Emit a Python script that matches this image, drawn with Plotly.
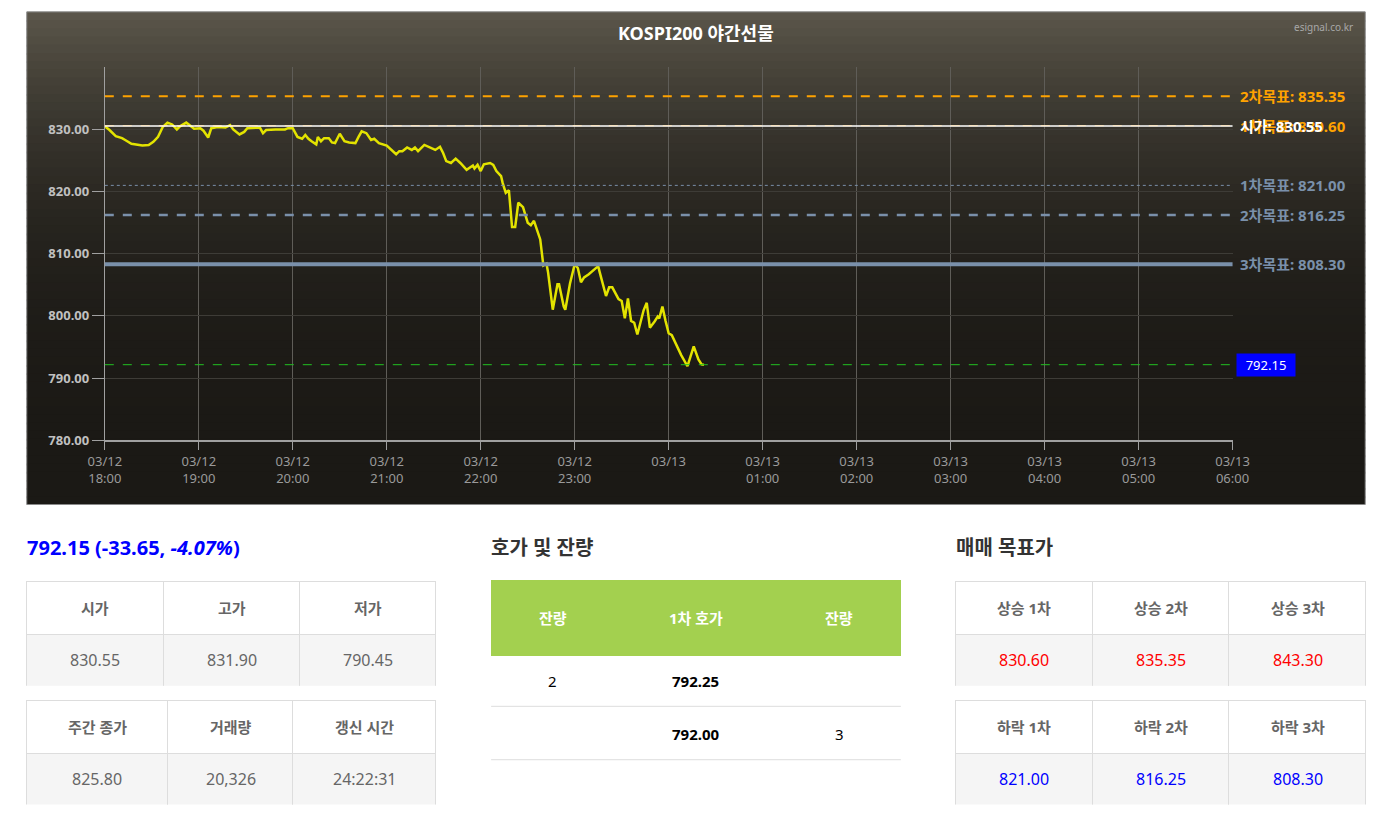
import plotly.graph_objects as go

# ---------------- data ----------------
times = [
    "2025-03-12 18:00", "2025-03-12 18:03", "2025-03-12 18:07", "2025-03-12 18:11", "2025-03-12 18:13",
    "2025-03-12 18:17", "2025-03-12 18:24", "2025-03-12 18:28", "2025-03-12 18:31", "2025-03-12 18:34",
    "2025-03-12 18:37", "2025-03-12 18:40", "2025-03-12 18:43", "2025-03-12 18:46", "2025-03-12 18:48",
    "2025-03-12 18:52", "2025-03-12 18:55", "2025-03-12 18:57", "2025-03-12 19:01", "2025-03-12 19:03",
    "2025-03-12 19:06", "2025-03-12 19:08", "2025-03-12 19:12", "2025-03-12 19:17", "2025-03-12 19:20",
    "2025-03-12 19:22", "2025-03-12 19:26", "2025-03-12 19:29", "2025-03-12 19:31", "2025-03-12 19:35",
    "2025-03-12 19:39", "2025-03-12 19:41", "2025-03-12 19:43", "2025-03-12 19:49", "2025-03-12 19:55",
    "2025-03-12 19:57", "2025-03-12 20:00", "2025-03-12 20:03", "2025-03-12 20:06", "2025-03-12 20:08",
    "2025-03-12 20:10", "2025-03-12 20:12", "2025-03-12 20:15", "2025-03-12 20:16", "2025-03-12 20:18",
    "2025-03-12 20:20", "2025-03-12 20:23", "2025-03-12 20:25", "2025-03-12 20:27", "2025-03-12 20:30",
    "2025-03-12 20:33", "2025-03-12 20:36", "2025-03-12 20:40", "2025-03-12 20:42", "2025-03-12 20:44",
    "2025-03-12 20:47", "2025-03-12 20:50", "2025-03-12 20:52", "2025-03-12 20:55", "2025-03-12 21:00",
    "2025-03-12 21:03", "2025-03-12 21:06", "2025-03-12 21:08", "2025-03-12 21:10", "2025-03-12 21:13",
    "2025-03-12 21:16", "2025-03-12 21:18", "2025-03-12 21:20", "2025-03-12 21:24", "2025-03-12 21:28",
    "2025-03-12 21:31", "2025-03-12 21:34", "2025-03-12 21:36", "2025-03-12 21:38", "2025-03-12 21:41",
    "2025-03-12 21:44", "2025-03-12 21:47", "2025-03-12 21:51", "2025-03-12 21:55", "2025-03-12 21:56",
    "2025-03-12 21:58", "2025-03-12 22:00", "2025-03-12 22:02", "2025-03-12 22:06", "2025-03-12 22:08",
    "2025-03-12 22:10", "2025-03-12 22:13", "2025-03-12 22:14", "2025-03-12 22:16", "2025-03-12 22:18",
    "2025-03-12 22:20", "2025-03-12 22:22", "2025-03-12 22:24", "2025-03-12 22:27", "2025-03-12 22:28",
    "2025-03-12 22:30", "2025-03-12 22:32", "2025-03-12 22:34", "2025-03-12 22:38", "2025-03-12 22:40",
    "2025-03-12 22:42", "2025-03-12 22:43", "2025-03-12 22:46", "2025-03-12 22:49", "2025-03-12 22:50",
    "2025-03-12 22:53", "2025-03-12 22:54", "2025-03-12 22:57", "2025-03-12 23:00", "2025-03-12 23:02",
    "2025-03-12 23:04", "2025-03-12 23:06", "2025-03-12 23:09", "2025-03-12 23:15", "2025-03-12 23:16",
    "2025-03-12 23:18", "2025-03-12 23:20", "2025-03-12 23:22", "2025-03-12 23:24", "2025-03-12 23:28",
    "2025-03-12 23:30", "2025-03-12 23:32", "2025-03-12 23:34", "2025-03-12 23:36", "2025-03-12 23:38",
    "2025-03-12 23:40", "2025-03-12 23:44", "2025-03-12 23:46", "2025-03-12 23:48", "2025-03-12 23:51",
    "2025-03-12 23:53", "2025-03-12 23:54", "2025-03-12 23:56", "2025-03-12 23:58", "2025-03-13 00:00",
    "2025-03-13 00:02", "2025-03-13 00:05", "2025-03-13 00:08", "2025-03-13 00:12", "2025-03-13 00:16",
    "2025-03-13 00:19", "2025-03-13 00:21", "2025-03-13 00:22:31",
]
prices = [
    830.5, 829.9, 828.9, 828.6, 828.3,
    827.7, 827.4, 827.5, 828.0, 828.8,
    830.4, 831.1, 830.8, 830.0, 830.5,
    831.1, 830.5, 830.1, 830.2, 829.8,
    828.7, 830.2, 830.4, 830.3, 830.7,
    830.0, 829.2, 829.6, 830.2, 830.2,
    830.3, 829.4, 829.9, 830.0, 830.0,
    830.2, 830.2, 828.8, 828.5, 829.1,
    828.5, 828.1, 827.6, 828.8, 828.1,
    828.6, 828.6, 827.9, 827.8, 829.3,
    828.1, 827.9, 827.8, 828.8, 829.7,
    829.4, 828.3, 828.5, 827.8, 827.4,
    826.7, 826.0, 826.5, 826.5, 827.1,
    826.7, 827.1, 826.5, 827.5, 827.1,
    826.7, 827.2, 826.2, 824.9, 824.6,
    825.3, 824.6, 823.5, 824.2, 823.7,
    824.3, 823.3, 824.4, 824.6, 824.3,
    823.3, 822.5, 821.4, 819.8, 820.2,
    814.3, 814.3, 818.2, 817.5, 816.6,
    815.0, 814.6, 815.3, 812.3, 808.1,
    808.4, 807.0, 801.0, 805.1, 805.1,
    801.5, 801.0, 805.2, 808.3, 807.7,
    805.4, 806.2, 806.7, 808.0, 807.0,
    804.9, 803.2, 804.6, 804.6, 802.7,
    802.4, 799.6, 802.8, 799.2, 798.9,
    797.0, 800.9, 802.1, 798.1, 799.1,
    799.9, 799.6, 801.5, 799.2, 797.2,
    796.9, 795.3, 793.7, 791.9, 795.1,
    793.0, 792.2, 792.15,
]

chart_title = "KOSPI200 야간선물"
source_text = "esignal.co.kr"

open_price = 830.55
current_price = 792.15
up_target_labels = ["1차목표", "2차목표"]
up_target_values = [830.60, 835.35]
down_target_labels = ["1차목표", "2차목표", "3차목표"]
down_target_values = [821.00, 816.25, 808.30]

x_tick_vals = ["2025-03-12 18:00", "2025-03-12 19:00", "2025-03-12 20:00", "2025-03-12 21:00",
               "2025-03-12 22:00", "2025-03-12 23:00", "2025-03-13 00:00", "2025-03-13 01:00",
               "2025-03-13 02:00", "2025-03-13 03:00", "2025-03-13 04:00", "2025-03-13 05:00",
               "2025-03-13 06:00"]
x_tick_text = ["03/12<br>18:00", "03/12<br>19:00", "03/12<br>20:00", "03/12<br>21:00",
               "03/12<br>22:00", "03/12<br>23:00", "03/13<br> ", "03/13<br>01:00",
               "03/13<br>02:00", "03/13<br>03:00", "03/13<br>04:00", "03/13<br>05:00",
               "03/13<br>06:00"]
y_tick_vals = [780, 790, 800, 810, 820, 830]
y_range = [780, 840]

headline = "792.15 (-33.65, <i>-4.07%</i>)"

summary1_header = ["시가", "고가", "저가"]
summary1_values = ["830.55", "831.90", "790.45"]
summary2_header = ["주간 종가", "거래량", "갱신 시간"]
summary2_values = ["825.80", "20,326", "24:22:31"]

orderbook_title = "호가 및 잔량"
orderbook_header = ["잔량", "1차 호가", "잔량"]
orderbook_ask_qty = ["2", ""]
orderbook_prices = ["792.25", "792.00"]
orderbook_bid_qty = ["", "3"]

targets_title = "매매 목표가"
targets_up_header = ["상승 1차", "상승 2차", "상승 3차"]
targets_up_values = ["830.60", "835.35", "843.30"]
targets_down_header = ["하락 1차", "하락 2차", "하락 3차"]
targets_down_values = ["821.00", "816.25", "808.30"]

# ---------------- layout helpers ----------------
W, H = 1391, 836
FONT = "Noto Sans, Noto Sans CJK KR, sans-serif"


def px_x(p):
    return p / W


def px_y(p):
    return 1 - p / H


fig = go.Figure()

# price line
fig.add_trace(go.Scatter(
    x=times, y=prices, mode="lines",
    line=dict(color="#e3e300", width=2.5),
    hoverinfo="x+y", showlegend=False,
))

shapes = []
annotations = []

# chart background gradient (box 10..1382 x 12..510 px)
box_top, box_bot = 12, 510
top_rgb = (92, 87, 75)
bot_rgb = (27, 25, 21)
n = 60
for i in range(n):
    y0p = box_top + (box_bot - box_top) * i / n
    y1p = min(box_bot, box_top + (box_bot - box_top) * (i + 1) / n + 2)
    t = (i + 0.5) / n
    k = (1 - t) ** 3
    c = tuple(int(round(b + (a - b) * k)) for a, b in zip(top_rgb, bot_rgb))
    shapes.append(dict(type="rect", xref="paper", yref="paper", layer="below",
                       x0=px_x(10), x1=px_x(1382), y0=px_y(y1p), y1=px_y(y0p),
                       fillcolor="rgb(%d,%d,%d)" % c, line=dict(width=0)))
shapes.append(dict(type="rect", xref="paper", yref="paper", layer="below",
                   x0=px_x(10), x1=px_x(1382), y0=px_y(box_bot), y1=px_y(box_top),
                   fillcolor="rgba(0,0,0,0)", line=dict(color="#8a8a8a", width=1)))


# target / reference lines
def hline(v, color, width, dash):
    shapes.append(dict(type="line", xref="x domain", yref="y", x0=0, x1=1, y0=v, y1=v,
                       line=dict(color=color, width=width, dash=dash), layer="above"))


ORANGE = "#ffa200"
STEEL = "#7a90aa"
hline(up_target_values[1], ORANGE, 2, "dash")
hline(up_target_values[0], ORANGE, 1, "dash")
hline(open_price, "#ffffff", 1.5, "solid")
hline(down_target_values[0], STEEL, 1, "dot")
hline(down_target_values[1], STEEL, 2.5, "dash")
hline(down_target_values[2], STEEL, 4, "solid")
hline(current_price, "#22c022", 1, "dash")


def note(text, x, y, font, xanchor="center", yanchor="middle", xref="paper", yref="paper", **kw):
    d = dict(text=text, xref=xref, yref=yref, x=x, y=y, xanchor=xanchor, yanchor=yanchor,
             showarrow=False, font=font)
    d.update(kw)
    annotations.append(d)


note("<b>%s</b>" % chart_title, px_x(696), px_y(33), dict(color="white", size=18, family=FONT))
note(source_text, px_x(1372), px_y(27), dict(color="#a8a8a8", size=10, family=FONT), xanchor="right")

LBL_X = px_x(1252)
LBL_FONT_O = dict(color=ORANGE, size=15, family=FONT)
LBL_FONT_S = dict(color=STEEL, size=15, family=FONT)
note("<b>%s: %.2f</b>" % (up_target_labels[1], up_target_values[1]), LBL_X, up_target_values[1],
     LBL_FONT_O, xanchor="left", yref="y")
note("<b>%s: %.2f</b>" % (up_target_labels[0], up_target_values[0]), LBL_X, up_target_values[0],
     LBL_FONT_O, xanchor="left", yref="y")
note("<b>시가: %.2f</b>" % open_price, LBL_X, open_price,
     dict(color="white", size=15, family=FONT), xanchor="left", yref="y")
for lab, v in zip(down_target_labels, down_target_values):
    note("<b>%s: %.2f</b>" % (lab, v), LBL_X, v, LBL_FONT_S, xanchor="left", yref="y")
note("%.2f" % current_price, px_x(1250), current_price, dict(color="white", size=13, family=FONT),
     xanchor="left", yref="y", bgcolor="#0000ff", borderpad=2, width=54)

# headings
note("<b>%s</b>" % headline, px_x(8), px_y(553), dict(color="#0000ff", size=20, family=FONT),
     xanchor="left")
note("<b>%s</b>" % orderbook_title, px_x(484), px_y(553), dict(color="#333333", size=20, family=FONT),
     xanchor="left")
note("<b>%s</b>" % targets_title, px_x(960), px_y(553), dict(color="#333333", size=20, family=FONT),
     xanchor="left")


# ---------------- tables ----------------
def grid_table(header, rows, x0, x1, y0, colw, hdr_h, row_h, hdr_fill, cell_fill,
               hdr_line, cell_line, hdr_font, row_fonts):
    """rows: list of rows, each a list of cell texts (one per column)."""
    ncol = len(header)
    nrow = len(rows)
    y1 = y0 + hdr_h + row_h * nrow
    fig.add_trace(go.Table(
        domain=dict(x=[px_x(x0), px_x(x1)], y=[px_y(y1), px_y(y0)]),
        columnwidth=colw,
        header=dict(values=[""] * ncol, fill_color=hdr_fill, height=hdr_h,
                    line=hdr_line),
        cells=dict(values=[[""] * nrow for _ in range(ncol)], fill_color=cell_fill,
                   height=row_h, line=cell_line),
    ))
    total = float(sum(colw))
    edges = [x0]
    for w in colw:
        edges.append(edges[-1] + (x1 - x0) * w / total)
    centers = [(edges[j] + edges[j + 1]) / 2 for j in range(ncol)]
    for j, h in enumerate(header):
        note(h, px_x(centers[j]), px_y(y0 + hdr_h / 2), hdr_font)
    for r, row in enumerate(rows):
        yc = y0 + hdr_h + row_h * r + row_h / 2
        for j, txt in enumerate(row):
            if txt == "":
                continue
            note(txt, px_x(centers[j]), px_y(yc), row_fonts[j])


GRID = dict(color="#dddddd", width=1)
HDR_FONT = dict(color="#666666", size=15, family=FONT)
VAL_FONT = dict(color="#666666", size=16, family=FONT)
RED_FONT = dict(color="#ff0000", size=16, family=FONT)
BLUE_FONT = dict(color="#0000ff", size=16, family=FONT)


def bold(lst):
    return ["<b>%s</b>" % s for s in lst]


grid_table(bold(summary1_header), [summary1_values], 10, 430, 588, [140, 140, 140], 53, 53,
           "white", "#f5f5f5", GRID, GRID, HDR_FONT, [VAL_FONT] * 3)
grid_table(bold(summary2_header), [summary2_values], 10, 430, 708, [145, 128, 147], 53, 53,
           "white", "#f5f5f5", GRID, GRID, HDR_FONT, [VAL_FONT] * 3)
grid_table(bold(targets_up_header), [targets_up_values], 962, 1383, 588, [140, 140, 140], 53, 53,
           "white", "#f5f5f5", GRID, GRID, HDR_FONT, [RED_FONT] * 3)
grid_table(bold(targets_down_header), [targets_down_values], 962, 1383, 708, [140, 140, 140], 53, 53,
           "white", "#f5f5f5", GRID, GRID, HDR_FONT, [BLUE_FONT] * 3)

ob_rows = [[orderbook_ask_qty[i], "<b>%s</b>" % orderbook_prices[i], orderbook_bid_qty[i]]
           for i in range(len(orderbook_prices))]
QTY_FONT = dict(color="#000000", size=15, family=FONT)
grid_table(bold(orderbook_header), ob_rows, 486, 906, 587, [126, 168, 126], 75, 53,
           "#a3d04f", "white", dict(color="#a3d04f", width=1), dict(color="white", width=1),
           dict(color="white", size=15, family=FONT), [QTY_FONT] * 3)
# orderbook row separators
for yy in (714, 768):
    shapes.append(dict(type="line", xref="paper", yref="paper",
                       x0=px_x(486), x1=px_x(906), y0=px_y(yy), y1=px_y(yy),
                       line=dict(color="#dddddd", width=1), layer="above"))

fig.update_layout(
    width=W, height=H,
    margin=dict(l=0, r=0, t=0, b=0),
    paper_bgcolor="white", plot_bgcolor="rgba(0,0,0,0)",
    shapes=shapes, annotations=annotations,
    font=dict(family=FONT),
    xaxis=dict(domain=[px_x(90), px_x(1246)], type="date",
               range=[x_tick_vals[0], x_tick_vals[-1]],
               tickvals=x_tick_vals, ticktext=x_tick_text,
               showgrid=True, gridcolor="#5f5d58", gridwidth=1,
               showline=True, linecolor="#a0a0a0", linewidth=2,
               ticks="outside", ticklen=8, tickcolor="#a0a0a0",
               tickfont=dict(color="#9a9a9a", size=13, family=FONT),
               zeroline=False, fixedrange=True),
    yaxis=dict(domain=[px_y(445), px_y(68)], range=y_range,
               tickvals=y_tick_vals, tickformat=".2f",
               showgrid=True, gridcolor="#3e3c37", gridwidth=1,
               showline=True, linecolor="#a0a0a0", linewidth=1,
               ticks="outside", ticklen=12, tickcolor="#a0a0a0",
               tickfont=dict(color="#c0c0c0", size=13, family=FONT, weight="bold"),
               zeroline=False, fixedrange=True),
)

page_js = """
document.documentElement.style.overflow='hidden';
document.body.style.overflow='hidden';
document.body.style.margin='0';
"""

fig.write_html("out.html", config=dict(displayModeBar=False), post_script=page_js)
